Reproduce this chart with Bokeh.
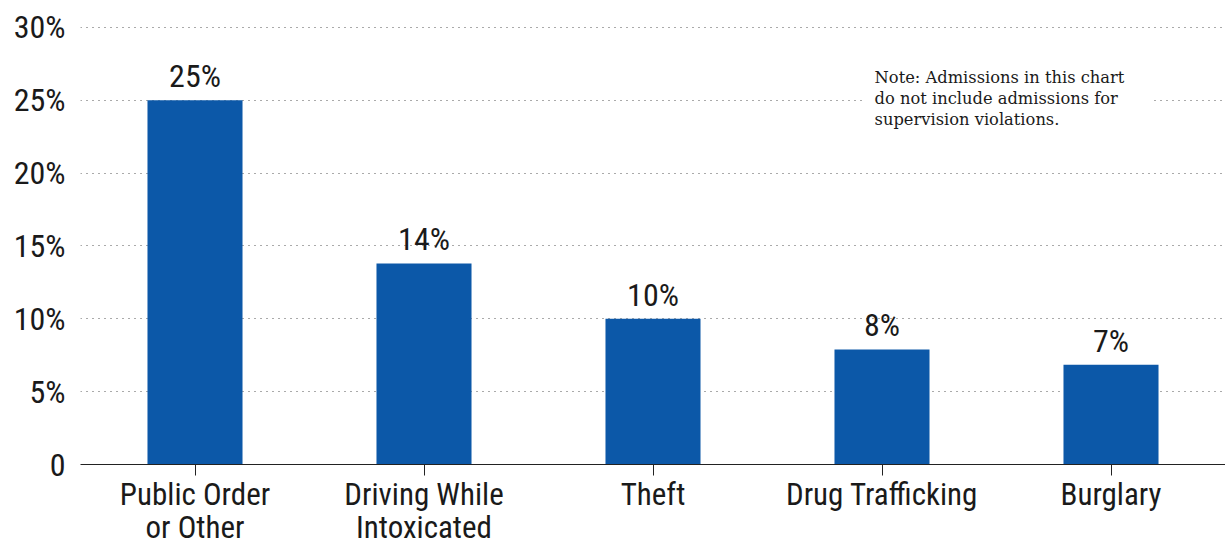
from bokeh.plotting import figure
from bokeh.models import FactorRange, Range1d, FixedTicker, Label, ColumnDataSource
from bokeh.core.properties import value
from bokeh.embed import file_html
from bokeh.resources import INLINE

categories = ["Public Order\nor Other", "Driving While\nIntoxicated", "Theft", "Drug Trafficking", "Burglary"]
shares = [25.0, 13.8, 10.0, 7.9, 6.85]
share_labels = ["25%", "14%", "10%", "8%", "7%"]
y_ticks = [0, 5, 10, 15, 20, 25, 30]
y_tick_labels = ["0", "5%", "10%", "15%", "20%", "25%", "30%"]
note_text = "Note: Admissions in this chart\ndo not include admissions for\nsupervision violations."

FONT = "Roboto Condensed, Liberation Sans Narrow, DejaVu Sans Condensed, sans-serif"
TXT = "#1a1a1a"
BLUE = "#0c58a8"
FS = "32px"

src = ColumnDataSource(dict(cat=categories, share=shares, lab=share_labels))

p = figure(
    width=1225, height=548,
    x_range=FactorRange(factors=categories, range_padding=0),
    y_range=Range1d(0, 30.27),
    output_backend="svg", toolbar_location=None,
    min_border_left=80, min_border_right=0, min_border_top=23, min_border_bottom=83,
)
p.outline_line_color = None
p.background_fill_color = "white"
p.border_fill_color = "white"

p.vbar(x="cat", top="share", width=0.415, source=src, color=BLUE, line_color=None)
p.text(x="cat", y="share", text="lab", source=src, text_align="center",
       text_baseline="bottom", y_offset=-5,
       text_font=value(FONT), text_font_size=FS, text_color=TXT)

# grid
p.xgrid.visible = False
p.ygrid.ticker = FixedTicker(ticks=y_ticks)
p.ygrid.grid_line_color = "#555555"
p.ygrid.grid_line_dash = "1 5"
p.ygrid.grid_line_width = 1.2

# y axis
p.yaxis.ticker = FixedTicker(ticks=y_ticks)
p.yaxis.major_label_overrides = {t: l for t, l in zip(y_ticks, y_tick_labels)}
p.yaxis.axis_line_color = None
p.yaxis.major_tick_line_color = None
p.yaxis.minor_tick_line_color = None
p.yaxis.major_tick_out = 0
p.yaxis.major_tick_in = 0
p.yaxis.minor_tick_out = 0
p.yaxis.major_label_standoff = 15
p.yaxis.major_label_text_font = FONT
p.yaxis.major_label_text_font_size = FS
p.yaxis.major_label_text_color = TXT

# x axis
p.xaxis.axis_line_color = "#222222"
p.xaxis.axis_line_width = 1.2
p.xaxis.major_tick_line_color = "#222222"
p.xaxis.major_tick_out = 11
p.xaxis.major_tick_in = 0
p.xaxis.major_label_standoff = 0
p.xaxis.major_label_text_font = FONT
p.xaxis.major_label_text_font_size = "31px"
p.xaxis.major_label_text_color = TXT
p.xaxis.major_label_text_line_height = 0.9

note = Label(x=3.424, y=27.88, text=note_text, text_align="left", text_baseline="top",
             text_font="DejaVu Serif", text_font_size="16.3px", text_color=TXT,
             text_line_height=1.09,
             background_fill_color="white",
             padding=dict(left=10, right=27, top=10, bottom=10))
p.add_layout(note)

open("out.html", "w").write(file_html(p, INLINE))
